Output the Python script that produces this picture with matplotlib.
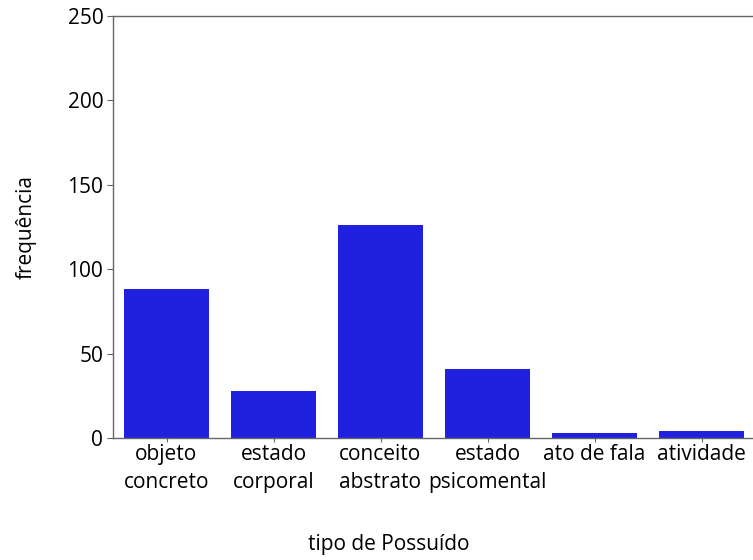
import matplotlib.pyplot as plt
import numpy as np

plt.rcParams['font.family'] = ['Open Sans', 'DejaVu Sans']

categorias = ["objeto\nconcreto", "estado\ncorporal", "conceito\nabstrato",
              "estado\npsicomental", "ato de fala", "atividade"]
frequencias = [88, 28, 126, 41, 3, 4]

fig = plt.figure(figsize=(7.53, 5.6), dpi=100)
ax = fig.add_axes([113/753, 1-438/560, 642/753, 422/560])

x = np.arange(len(categorias))
ax.bar(x, frequencias, width=0.8, color=(0.125, 0.125, 0.875))

ax.set_xlim(-0.5, 5.5)
ax.set_ylim(0, 250)
ax.set_yticks([0, 50, 100, 150, 200, 250])
ax.set_xticks(x)
ax.set_xticklabels(categorias, fontsize=15, linespacing=1.45)
ax.tick_params(axis='y', labelsize=15, length=4, color='#666666', pad=3)
ax.tick_params(axis='x', length=3, color='#666666', pad=1)

for s in ax.spines.values():
    s.set_color('#666666')
    s.set_linewidth(1)

ax.set_ylabel("frequência", fontsize=15, labelpad=22)
ax.set_xlabel("tipo de Possuído", fontsize=15)
# label sits left of the axes centre in the original
ax.xaxis.set_label_coords(0.43, -0.227)

plt.savefig("out.png", dpi=100)
